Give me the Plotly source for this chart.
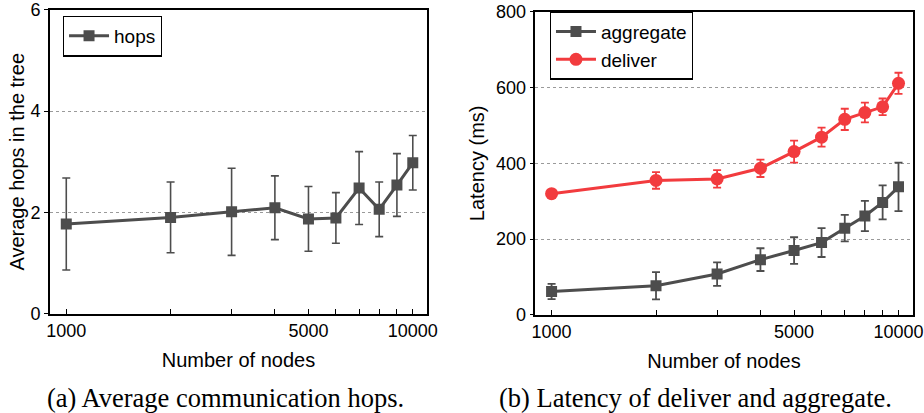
import plotly.graph_objects as go

nodes = [1000, 2000, 3000, 4000, 5000, 6000, 7000, 8000, 9000, 10000]
hops = [1.77, 1.90, 2.01, 2.09, 1.87, 1.89, 2.48, 2.06, 2.54, 2.98]
hops_err = [0.91, 0.70, 0.86, 0.63, 0.64, 0.50, 0.72, 0.54, 0.62, 0.54]
aggregate = [62, 77, 108, 146, 170, 191, 229, 261, 297, 338]
aggregate_err = [20, 36, 31, 30, 35, 38, 35, 40, 45, 64]
deliver = [320, 355, 359, 387, 431, 469, 516, 534, 549, 611]
deliver_err = [6, 22, 23, 23, 29, 25, 28, 26, 22, 28]

x_tickvals = [1000, 5000, 10000]
GRAY = "#4d4d4d"
RED = "#f23b3e"
FONT = "Liberation Sans, Arial, sans-serif"
SERIF = "Liberation Serif, Times New Roman, serif"

fig = go.Figure()

fig.add_trace(go.Scatter(
    x=nodes, y=hops, name="hops", mode="lines+markers",
    line=dict(color=GRAY, width=3),
    marker=dict(symbol="square", size=11, color=GRAY),
    error_y=dict(type="data", array=hops_err, color=GRAY, thickness=1.6, width=4),
    xaxis="x", yaxis="y", legend="legend",
))
fig.add_trace(go.Scatter(
    x=nodes, y=aggregate, name="aggregate", mode="lines+markers",
    line=dict(color=GRAY, width=3),
    marker=dict(symbol="square", size=11, color=GRAY),
    error_y=dict(type="data", array=aggregate_err, color=GRAY, thickness=1.8, width=4),
    xaxis="x2", yaxis="y2", legend="legend2",
))
fig.add_trace(go.Scatter(
    x=nodes, y=deliver, name="deliver", mode="lines+markers",
    line=dict(color=RED, width=3),
    marker=dict(symbol="circle", size=13, color=RED),
    error_y=dict(type="data", array=deliver_err, color=RED, thickness=1.8, width=4),
    xaxis="x2", yaxis="y2", legend="legend2",
))

xcommon = dict(
    type="log", range=[2.953, 4.041], automargin=False,
    tickmode="array", tickvals=x_tickvals, ticktext=[str(v) for v in x_tickvals],
    ticks="", showgrid=False, zeroline=False,
    showline=True, linecolor="black", linewidth=1.5, mirror=True,
    tickfont=dict(size=18, color="black", family=FONT),
    title=dict(text="Number of nodes", font=dict(size=20, color="black", family=FONT), standoff=13),
    minor=dict(tickmode="array", tickvals=nodes, ticks="inside", ticklen=5,
               tickcolor="black", tickwidth=1, showgrid=False),
)
ycommon = dict(
    automargin=False,
    showgrid=True, gridcolor="#9a9a9a", griddash="dot", gridwidth=1,
    zeroline=False, showline=True, linecolor="black", linewidth=1.5, mirror=True,
    ticks="outside", ticklen=4, tickcolor="black",
    tickfont=dict(size=18, color="black", family=FONT),
)

fig.update_layout(
    width=924, height=413,
    margin=dict(l=0, r=0, t=0, b=0),
    paper_bgcolor="white", plot_bgcolor="white",
    showlegend=True,
    xaxis=dict(domain=[0.0541, 0.4621], anchor="y", **xcommon),
    yaxis=dict(domain=[0.2409, 0.9758], anchor="x", range=[0, 6], tickvals=[0, 2, 4, 6],
               title=dict(text="Average hops in the tree", font=dict(size=20, color="black", family=FONT), standoff=1),
               **ycommon),
    xaxis2=dict(domain=[0.5793, 0.9878], anchor="y2", **xcommon),
    yaxis2=dict(domain=[0.2373, 0.9717], anchor="x2", range=[0, 800], tickvals=[0, 200, 400, 600, 800],
                title=dict(text="Latency (ms)", font=dict(size=20, color="black", family=FONT), standoff=6),
                **ycommon),
    legend=dict(x=0.068, y=0.962, xanchor="left", yanchor="top",
                bordercolor="black", borderwidth=1.2, bgcolor="white",
                font=dict(size=19, color="black", family=FONT),
                itemwidth=40, tracegroupgap=0),
    legend2=dict(x=0.595, y=0.972, xanchor="left", yanchor="top",
                 bordercolor="black", borderwidth=1.2, bgcolor="white",
                 font=dict(size=19, color="black", family=FONT),
                 itemwidth=40, tracegroupgap=0),
    annotations=[
        dict(text="(a) Average communication hops.", x=225/924, y=1-398/413,
             xref="paper", yref="paper", showarrow=False, xanchor="center", yanchor="middle",
             font=dict(size=26.5, color="black", family=SERIF)),
        dict(text="(b) Latency of deliver and aggregate.", x=695/924, y=1-398/413,
             xref="paper", yref="paper", showarrow=False, xanchor="center", yanchor="middle",
             font=dict(size=26.5, color="black", family=SERIF)),
    ],
)

fig.write_html("out.html", config={"displayModeBar": False},
               post_script="document.body.style.margin='0px';")
